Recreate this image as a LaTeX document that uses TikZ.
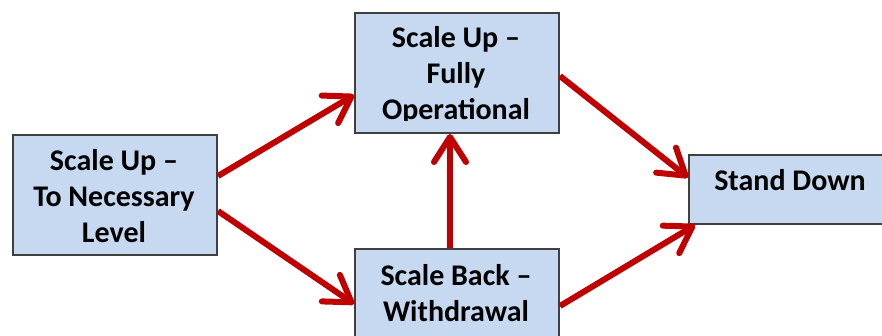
\documentclass[tikz,border=0pt]{standalone}
\usepackage{fontspec}
\setmainfont{Carlito}
\usetikzlibrary{arrows.meta,calc}
\definecolor{boxfill}{HTML}{C6D9F1}
\definecolor{boxline}{HTML}{404040}
\definecolor{flow}{HTML}{C00000}
\begin{document}
\begin{tikzpicture}[x=1pt,y=-1pt,
  stagebox/.style={draw=boxline, line width=2pt, fill=boxfill,
    minimum width=204pt, minimum height=120pt, inner sep=0pt, anchor=north west},
  stagetext/.style={font=\bfseries\fontsize{30}{36}\selectfont,
    align=center, anchor=base, inner sep=0pt},
  flowarrow/.style={draw=flow, line width=6pt,
    -{Straight Barb[length=25pt,width=32pt,round]}}]
\useasboundingbox (0,0) rectangle (882,336);
\clip (0,0) rectangle (882,336);

% stage boxes
\node[stagebox] (lvl) at (12,134) {};
\node[stagebox] (top) at (354,12) {};
\node[stagebox] (back) at (354,248) {};
\node[stagebox, minimum height=69pt] (down) at (688,154) {};

% stage labels (anchored at the baseline of the last line)
\node[stagetext] (lvlt) at (114,242.7) {Scale Up –\\To Necessary\\Level};
\begin{scope}
  \clip (353,11) rectangle (559,121);
  \node[stagetext] (topt) at (456,120) {Scale Up –\\Fully\\Operational};
\end{scope}
\node[stagetext] (backt) at (456,321) {Scale Back –\\Withdrawal};
\node[stagetext] (downt) at (790,191) {Stand Down};

% transitions
\draw[flowarrow] ($(lvl.east)+(0,-19)$) -- ($(top.west)+(0,22)$);
\draw[flowarrow] ($(lvl.east)+(0,16)$) -- ($(back.west)+(0,-5)$);
\draw[flowarrow] ($(back.north)+(-7,0)$) -- ($(top.south)+(-7,0)$);
\draw[flowarrow] ($(top.east)+(0,3)$) -- ($(down.west)+(0,-12)$);
\draw[flowarrow] ($(back.east)+(0,-3)$) -- ($(down.south west)+(7,0)$);
\end{tikzpicture}
\end{document}
